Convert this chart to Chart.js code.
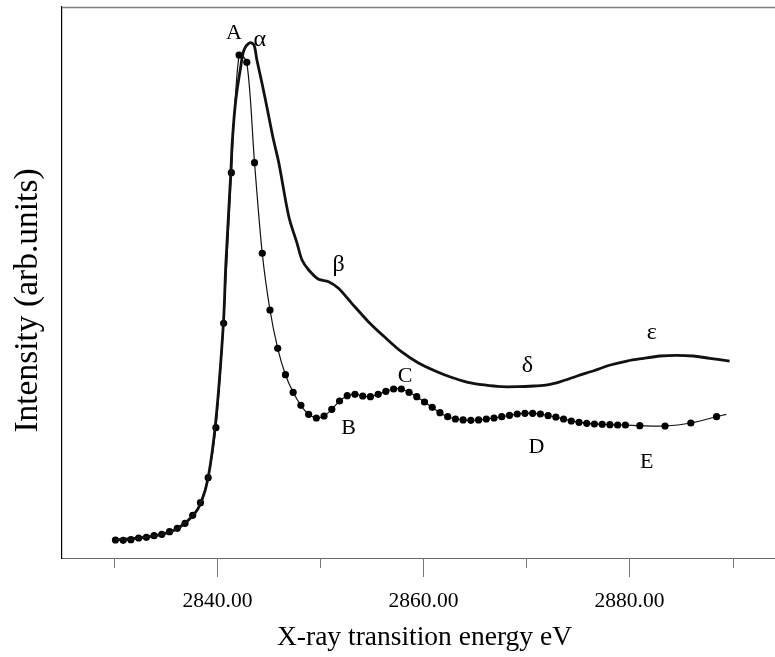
<!DOCTYPE html>
<html>
<head>
<meta charset="utf-8">
<script src="https://cdn.jsdelivr.net/npm/chart.js@4/dist/chart.umd.min.js"></script>
<style>
  html, body { margin: 0; padding: 0; background: #fff; overflow: hidden; width: 775px; height: 657px; }
  #wrap { position: absolute; left: 0; top: 0; width: 791px; height: 657px; }
</style>
</head>
<body>
<div id="wrap"><canvas id="c" width="791" height="657"></canvas></div>
<script>
// ---- Data ----
// Solid thick spectrum (alpha..epsilon)
const energySolid = [2830.13, 2832.35, 2834.63, 2836.18, 2837.66, 2838.40, 2839.10, 2839.85, 2840.58, 2840.81,
  2841.30, 2841.45, 2841.78, 2842.26, 2842.58, 2843.16, 2843.55, 2843.83, 2844.32, 2844.80,
  2845.38, 2845.96, 2846.93, 2847.73, 2848.21, 2848.86, 2849.82, 2850.79, 2851.75, 2853.04,
  2854.65, 2856.26, 2857.86, 2859.47, 2861.09, 2862.69, 2864.30, 2865.91, 2867.52, 2869.13,
  2870.74, 2872.03, 2873.31, 2874.92, 2876.53, 2878.14, 2879.75, 2881.36, 2882.96, 2884.57,
  2886.19, 2887.79, 2889.72];
const intensitySolid = [3.27, 3.63, 4.30, 5.39, 7.75, 10.04, 14.57, 25.05, 42.60, 53.18,
  69.93, 75.86, 83.12, 89.17, 92.20, 93.52, 93.10, 90.38, 86.21, 81.85,
  76.41, 71.69, 61.94, 57.11, 54.08, 52.27, 50.58, 50.15, 48.95, 46.22,
  42.89, 40.05, 37.44, 35.44, 33.99, 32.80, 31.89, 31.40, 31.09, 31.09,
  31.22, 31.40, 32.00, 33.03, 33.99, 35.03, 35.75, 36.24, 36.66, 36.79,
  36.66, 36.24, 35.75];

// Dotted spectrum (A..E); last entry is the end of the line (no marker)
const energyDots = [2830.10, 2830.85, 2831.60, 2832.35, 2833.10, 2833.85, 2834.60, 2835.35, 2836.10, 2836.85,
  2837.60, 2838.35, 2839.10, 2839.85, 2840.60, 2841.35, 2842.10, 2842.85, 2843.60, 2844.35,
  2845.10, 2845.85, 2846.60, 2847.35, 2848.10, 2848.85, 2849.60, 2850.35, 2851.10, 2851.85,
  2852.60, 2853.35, 2854.10, 2854.85, 2855.60, 2856.35, 2857.10, 2857.85, 2858.60, 2859.35,
  2860.10, 2860.85, 2861.60, 2862.35, 2863.10, 2863.85, 2864.60, 2865.35, 2866.10, 2866.85,
  2867.60, 2868.35, 2869.10, 2869.85, 2870.60, 2871.35, 2872.10, 2872.85, 2873.60, 2874.35,
  2875.10, 2875.85, 2876.60, 2877.35, 2878.10, 2878.85, 2879.60,
  2881.00, 2883.45, 2885.95, 2888.45, 2889.40];
const intensityDots = [3.27, 3.21, 3.32, 3.63, 3.76, 4.05, 4.30, 4.77, 5.39, 6.30,
  7.75, 10.04, 14.57, 23.65, 42.60, 69.93, 91.29, 89.96, 71.74, 55.30,
  45.01, 38.06, 33.27, 30.07, 27.71, 26.08, 25.41, 25.77, 26.99, 28.49,
  29.46, 29.71, 29.40, 29.27, 29.71, 30.25, 30.67, 30.67, 30.07, 29.27,
  28.31, 27.35, 26.37, 25.64, 25.23, 25.05, 24.99, 25.05, 25.23, 25.41,
  25.64, 25.90, 26.13, 26.26, 26.26, 26.13, 25.83, 25.59, 25.23, 24.86,
  24.63, 24.45, 24.32, 24.27, 24.19, 24.14, 24.14,
  24.01, 23.96, 24.50, 25.64, 26.08];

// Axis ticks and titles
const xTicks = [2830, 2840, 2850, 2860, 2870, 2880, 2890];
const xTickLabels = ['', '2840.00', '', '2860.00', '', '2880.00', ''];
const xTitle = 'X-ray transition energy eV';
const yTitle = 'Intensity (arb.units)';

// Feature letters
const featureText = ['A', 'α', 'β', 'B', 'C', 'δ', 'D', 'ε', 'E'];
const featureX = [2841.61, 2844.12, 2851.75, 2852.72, 2858.22, 2870.10, 2870.96, 2882.16, 2881.68];
const featureY = [95.28, 94.01, 53.18, 23.59, 33.03, 34.85, 20.15, 40.83, 17.42];

// ---- Chart ----
const serif = 'Liberation Serif, Times New Roman, serif';

const decoPlugin = {
  id: 'deco',
  afterDatasetsDraw(chart) {
    const { ctx, chartArea: a, scales: { x, y } } = chart;
    ctx.save();
    // top frame line
    ctx.strokeStyle = '#808080';
    ctx.lineWidth = 1.5;
    ctx.beginPath();
    ctx.moveTo(a.left, a.top + 0.5);
    ctx.lineTo(a.right, a.top + 0.5);
    ctx.stroke();
    // tick marks (long at labelled ticks)
    ctx.strokeStyle = '#777';
    ctx.lineWidth = 1;
    xTicks.forEach((v, i) => {
      const px = Math.round(x.getPixelForValue(v)) + 0.5;
      const len = xTickLabels[i] ? 19 : 10;
      ctx.beginPath();
      ctx.moveTo(px, a.bottom);
      ctx.lineTo(px, a.bottom + len);
      ctx.stroke();
    });
    // feature letters
    ctx.fillStyle = '#000';
    ctx.textAlign = 'center';
    ctx.textBaseline = 'middle';
    featureText.forEach((t, i) => {
      const greek = /[α-ω]/.test(t);
      ctx.font = (greek ? '24px ' : '22px ') + serif;
      ctx.fillText(t, x.getPixelForValue(featureX[i]), y.getPixelForValue(featureY[i]));
    });
    // y-axis title (rotated)
    ctx.font = '33.5px ' + serif;
    ctx.translate(a.left - 34, (a.top + a.bottom) / 2 + 18);
    ctx.rotate(-Math.PI / 2);
    ctx.fillText(yTitle, 0, 0);
    ctx.restore();
  }
};

new Chart(document.getElementById('c'), {
  type: 'line',
  data: {
    datasets: [
      {
        label: 'solid',
        data: energySolid.map((e, i) => ({ x: e, y: intensitySolid[i] })),
        borderColor: '#111',
        borderWidth: 2.8,
        pointRadius: 0,
        tension: 0.3,
        fill: false
      },
      {
        label: 'dots',
        data: energyDots.map((e, i) => ({ x: e, y: intensityDots[i] })),
        borderColor: '#111',
        borderWidth: 1.2,
        pointRadius: ctx => (ctx.dataIndex === energyDots.length - 1 ? 0 : 3.6),
        pointBackgroundColor: '#000',
        pointBorderColor: '#000',
        pointBorderWidth: 0,
        tension: 0.3,
        fill: false
      }
    ]
  },
  options: {
    responsive: false,
    animation: false,
    events: [],
    layout: { padding: { top: 7, left: 0, right: 0, bottom: 0 } },
    plugins: { legend: { display: false }, tooltip: { enabled: false } },
    scales: {
      x: {
        type: 'linear',
        min: 2824.91,
        max: 2895.29,
        afterBuildTicks: s => { s.ticks = xTicks.map(v => ({ value: v })); },
        afterFit: s => { s.height = 99; },
        ticks: {
          autoSkip: false,
          maxRotation: 0,
          padding: 11,
          color: '#000',
          font: { family: serif, size: 21.5 },
          callback: (v, i) => xTickLabels[i]
        },
        grid: { display: true, drawOnChartArea: false, drawTicks: true, tickLength: 19, color: 'rgba(0,0,0,0)' },
        border: { display: true, color: '#666', width: 1 },
        title: {
          display: true,
          text: xTitle,
          color: '#000',
          font: { family: serif, size: 27.5 },
          padding: { top: 0, bottom: 3 }
        }
      },
      y: {
        min: 0,
        max: 100,
        afterFit: s => { s.width = 62; },
        ticks: { display: false },
        grid: { display: false, drawTicks: false },
        border: { display: true, color: '#000', width: 1.2 },
        title: { display: false }
      }
    }
  },
  plugins: [decoPlugin]
});
</script>
</body>
</html>
